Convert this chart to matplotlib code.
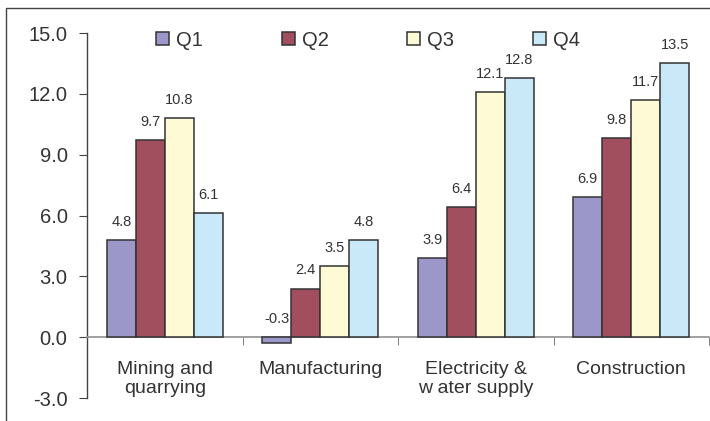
import numpy as np
import matplotlib
matplotlib.use("Agg")
import matplotlib.pyplot as plt
from matplotlib.patches import Rectangle

plt.rcParams['font.family'] = ['Liberation Sans', 'DejaVu Sans']

# data
categories = ["Mining and\nquarrying", "Manufacturing", "Electricity &\nw ater supply", "Construction"]
quarters = ["Q1", "Q2", "Q3", "Q4"]
q1 = [4.8, -0.3, 3.9, 6.9]
q2 = [9.7, 2.4, 6.4, 9.8]
q3 = [10.8, 3.5, 12.1, 11.7]
q4 = [6.1, 4.8, 12.8, 13.5]
yticks = [-3.0, 0.0, 3.0, 6.0, 9.0, 12.0, 15.0]

colors = ["#9c97c9", "#a14f5e", "#fffad6", "#c9e9f8"]
edge = "#333333"
txt = "#333333"

fig = plt.figure(figsize=(7.10, 4.21), dpi=100)
ax = fig.add_axes([87 / 710, 1 - 398 / 421, 622 / 710, 365 / 421])

x = np.arange(len(categories))
w = 0.186
series = [q1, q2, q3, q4]
for i, (vals, c, name) in enumerate(zip(series, colors, quarters)):
    pos = x + (i - 1.5) * w
    ax.bar(pos, vals, w, color=c, edgecolor=edge, linewidth=1.1, label=name, zorder=3)
    for p, v in zip(pos, vals):
        top = max(v, 0)
        ax.annotate(f"{v:.1f}", (p, top), xytext=(0, 8), textcoords="offset points",
                    ha="center", va="bottom", fontsize=10.5, color=txt)

ax.set_xlim(-0.5, 3.5)
ax.set_ylim(-3, 15)
ax.set_yticks(yticks)
ax.set_yticklabels([f"{t:.1f}" for t in yticks])

for s in ["top", "right"]:
    ax.spines[s].set_visible(False)
ax.spines["bottom"].set_position(("data", 0))
ax.spines["bottom"].set_color("#999999")
ax.spines["bottom"].set_linewidth(1.3)
ax.spines["left"].set_color("#444444")
ax.spines["left"].set_linewidth(1.0)

ax.set_xticks(x)
ax.set_xticklabels(categories, fontsize=14, color=txt, linespacing=1.15)
ax.tick_params(axis="x", which="major", length=0, pad=17)
ax.set_xticks([0.5, 1.5, 2.5, 3.5], minor=True)
ax.tick_params(axis="x", which="minor", length=6, color="#666666", direction="out")
ax.tick_params(axis="y", length=6, color="#444444", labelsize=14.5, labelcolor=txt, pad=8)

fig.legend(loc="center", bbox_to_anchor=(368 / 710, 1 - 40 / 421), ncol=4, frameon=False,
           fontsize=14.5, handlelength=0.65, handleheight=0.65, handletextpad=0.35,
           columnspacing=3.9, labelcolor=txt)

# outer frame (left and top edges visible in the reference)
fig.add_artist(Rectangle((6 / 710, -0.05), 1.0, 1.05 - 8 / 421, transform=fig.transFigure,
                         fill=False, edgecolor="#444444", linewidth=1.0))

fig.savefig("out.png", dpi=100)
